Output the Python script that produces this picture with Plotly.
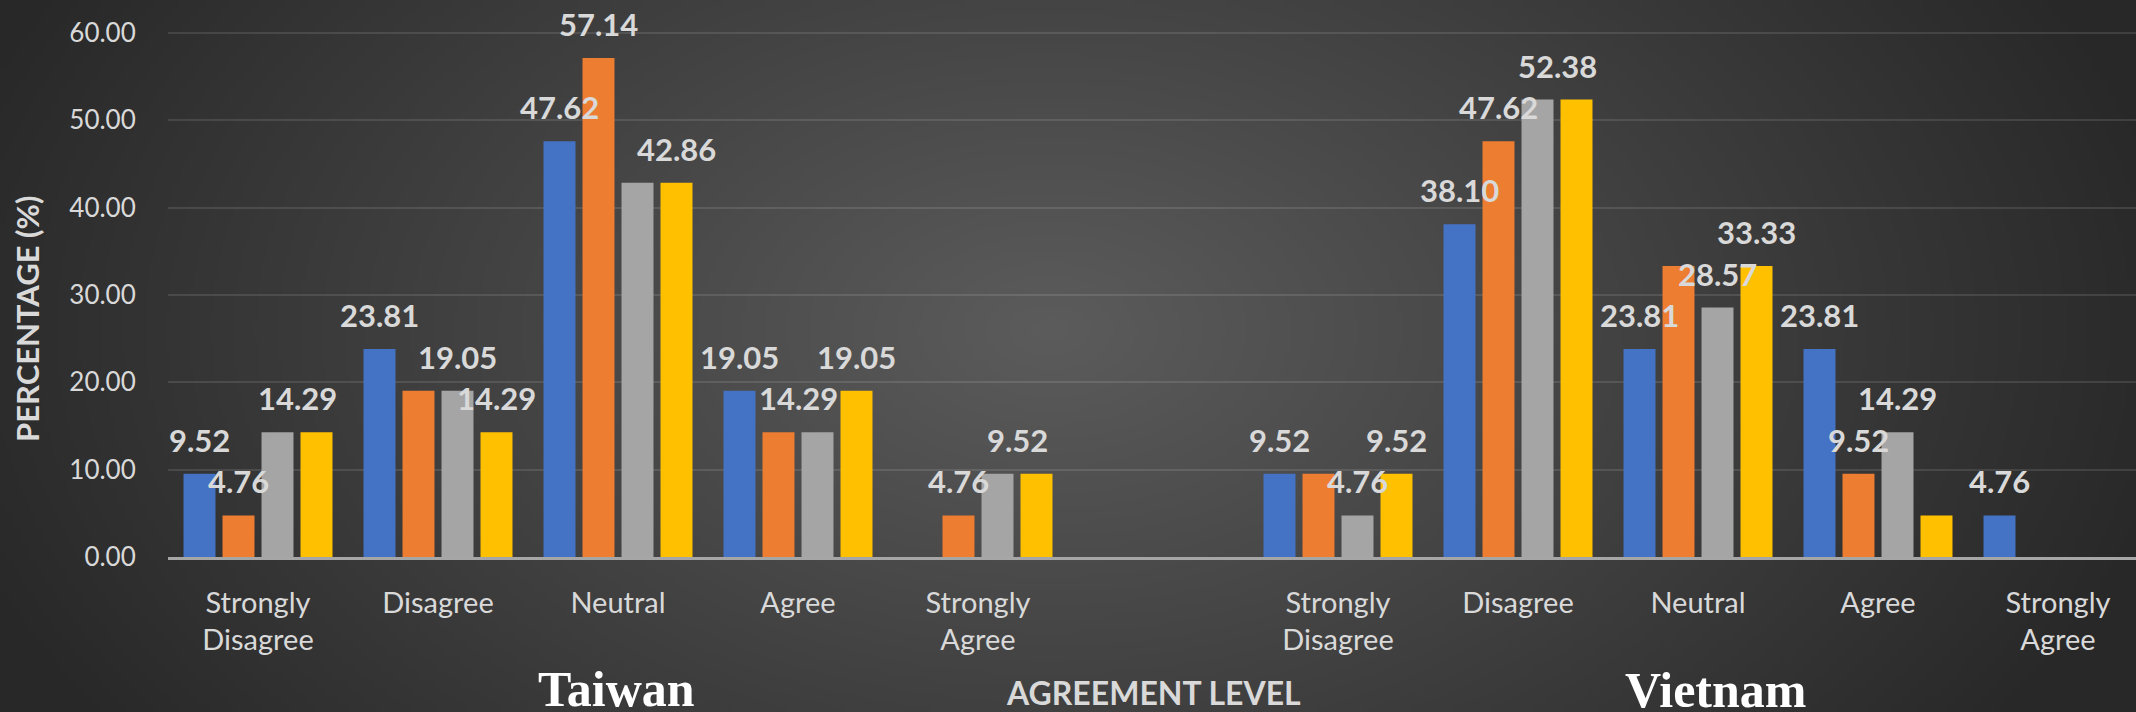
import numpy as np
import zlib, struct, base64
import plotly.graph_objects as go

# ---------------- data ----------------
countries = ["Taiwan", "Vietnam"]
levels = ["Strongly<br>Disagree", "Disagree", "Neutral", "Agree", "Strongly<br>Agree"]
series_names = ["Series 1", "Series 2", "Series 3", "Series 4"]
# values: Taiwan (5 levels) followed by Vietnam (5 levels)
series_1 = [9.52, 23.81, 47.62, 19.05, 0.00, 9.52, 38.10, 23.81, 23.81, 4.76]
series_2 = [4.76, 19.05, 57.14, 14.29, 4.76, 9.52, 47.62, 33.33, 9.52, 0.00]
series_3 = [14.29, 19.05, 42.86, 14.29, 9.52, 4.76, 52.38, 28.57, 14.29, 0.00]
series_4 = [14.29, 14.29, 42.86, 19.05, 9.52, 9.52, 52.38, 33.33, 4.76, 0.00]
series_values = [series_1, series_2, series_3, series_4]
y_ticks = [0, 10, 20, 30, 40, 50, 60]

# which data labels are displayed in each group (value from first series,
# centred between the two listed bars)
label_anchors = [
    [(0, 0), (1, 1), (2, 3)],
    [(0, 0), (2, 2), (3, 3)],
    [(0, 0), (1, 1), (3, 3)],
    [(0, 0), (1, 2), (3, 3)],
    [(1, 1), (2, 3)],
    [(0, 0), (2, 2), (3, 3)],
    [(0, 0), (1, 1), (2, 3)],
    [(0, 0), (2, 2), (3, 3)],
    [(0, 0), (1, 1), (2, 2)],
    [(0, 0)],
]

# ---------------- style ----------------
colors = ["#4472C4", "#ED7D31", "#A5A5A5", "#FFC000"]
W, H = 2136, 712
L, R, T, B = 168, 0, 16, 155
PW, PH = W - L - R, H - T - B
SLOT_PX = 180.0
BARGAP = 1 - 156 / 180.0
BARGROUPGAP = 0.18
TXT = "#d9d9d9"
FONT = "Lato"

n_lv = len(levels)
slots = [ci * (n_lv + 1) + li for ci in range(len(countries)) for li in range(n_lv)]
ticktext = [lv for _ in countries for lv in levels]

x_lo = -0.5
x_hi = x_lo + PW / SLOT_PX
y_hi = 61.95


def png_uri(arr):
    h, w, _ = arr.shape
    raw = b"".join(b"\x00" + arr[i].tobytes() for i in range(h))

    def chunk(t, data):
        return struct.pack(">I", len(data)) + t + data + struct.pack(">I", zlib.crc32(t + data) & 0xFFFFFFFF)

    png = (b"\x89PNG\r\n\x1a\n"
           + chunk(b"IHDR", struct.pack(">IIBBBBB", w, h, 8, 2, 0, 0, 0))
           + chunk(b"IDAT", zlib.compress(raw, 9))
           + chunk(b"IEND", b""))
    return "data:image/png;base64," + base64.b64encode(png).decode()


gw, gh = 534, 178
yy, xx = np.mgrid[0:gh, 0:gw]
px = (xx + 0.5) * W / gw
py = (yy + 0.5) * H / gh
d = np.sqrt(((px - 1050) / 1150) ** 2 + ((py - 330) / 720) ** 2)
c = 92 - 52 * np.clip(d, 0, 1)
bg = np.stack([c, c, c], -1).astype(np.uint8)
bg_uri = png_uri(bg)


def paper_x(pxv):
    return (pxv - L) / PW


def paper_y(pyv):
    return (H - B - pyv) / PH


fig = go.Figure()
for si, (name, vals) in enumerate(zip(series_names, series_values)):
    fig.add_trace(go.Bar(
        x=slots, y=vals, name=name,
        marker=dict(color=colors[si], line=dict(width=0)),
        hovertemplate="%{y:.2f}<extra>" + name + "</extra>",
    ))

pitch = (1 - BARGAP) / len(series_values)
annotations = []
for gi, anchors in enumerate(label_anchors):
    for a, b in anchors:
        v = series_values[a][gi]
        xc = slots[gi] + ((a + b) / 2.0 - (len(series_values) - 1) / 2.0) * pitch
        annotations.append(dict(
            x=xc, y=v, xref="x", yref="y", text=f"<b>{v:.2f}</b>",
            showarrow=False, yanchor="bottom", xanchor="center", yshift=13,
            font=dict(family=FONT, size=31, color=TXT),
        ))

annotations += [
    dict(x=paper_x(27), y=paper_y(319), xref="paper", yref="paper",
         text="<b>PERCENTAGE (%)</b>", textangle=-90, showarrow=False,
         xanchor="center", yanchor="middle",
         font=dict(family=FONT, size=31, color=TXT)),
    dict(x=paper_x(1153), y=paper_y(692), xref="paper", yref="paper",
         text="<b>AGREEMENT LEVEL</b>", showarrow=False,
         xanchor="center", yanchor="middle",
         font=dict(family=FONT, size=32, color=TXT)),
    dict(x=paper_x(616), y=paper_y(689), xref="paper", yref="paper",
         text="<b>" + countries[0] + "</b>", showarrow=False,
         xanchor="center", yanchor="middle",
         font=dict(family="Liberation Serif", size=50, color="#ffffff")),
    dict(x=paper_x(1715), y=paper_y(690), xref="paper", yref="paper",
         text="<b>" + countries[1] + "</b>", showarrow=False,
         xanchor="center", yanchor="middle",
         font=dict(family="Liberation Serif", size=50, color="#ffffff")),
]

fig.update_layout(
    width=W, height=H,
    margin=dict(l=L, r=R, t=T, b=B, autoexpand=False),
    paper_bgcolor="#333333",
    plot_bgcolor="rgba(0,0,0,0)",
    barmode="group", bargap=BARGAP, bargroupgap=BARGROUPGAP,
    showlegend=False,
    annotations=annotations,
    images=[dict(source=bg_uri, xref="paper", yref="paper",
                 x=-L / PW, y=1 + T / PH, sizex=W / PW, sizey=H / PH,
                 xanchor="left", yanchor="top", sizing="stretch", layer="below")],
    xaxis=dict(
        range=[x_lo, x_hi], tickvals=slots, ticktext=ticktext,
        showgrid=False, zeroline=False,
        showline=True, linecolor="#a6a6a6", linewidth=2.5,
        ticks="outside", ticklen=18, tickcolor="rgba(0,0,0,0)",
        tickfont=dict(family=FONT, size=29, color=TXT),
        automargin=False,
    ),
    yaxis=dict(
        range=[0, y_hi], tickvals=y_ticks, tickformat=".2f",
        showgrid=True, gridcolor="rgba(255,255,255,0.11)", gridwidth=1.5,
        zeroline=False, showline=False,
        ticks="outside", ticklen=26, tickcolor="rgba(0,0,0,0)",
        tickfont=dict(family=FONT, size=26, color=TXT),
        automargin=False,
    ),
)

fig.write_html(
    "out.html",
    config={"displayModeBar": False},
    post_script="document.body.style.margin='0';document.body.style.padding='0';"
                "document.body.style.background='#333333';",
)
